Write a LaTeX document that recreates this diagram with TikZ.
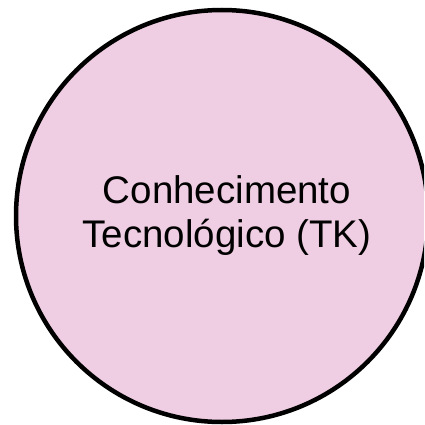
\documentclass[tikz,border=0pt]{standalone}
\usepackage{fontspec}
\setmainfont{Liberation Sans}
\definecolor{tkpink}{RGB}{239,205,226}
\tikzset{
  circ/.style={draw=black, fill=tkpink, line width=4.5pt},
  lbl/.style={align=center, font=\fontsize{38.5}{44.5}\selectfont, text=black}
}
\begin{document}
\begin{tikzpicture}[x=1pt,y=-1pt]
\useasboundingbox (0,0) rectangle (424,425);
\begin{scope}
\clip (0,0) rectangle (424,425);
\node[circ, circle, minimum size=412pt, inner sep=0pt] (tk) at (222,216) {};
\end{scope}
\node[lbl] (t) at (227,215.5) {Conhecimento\\Tecnológico (TK)};
\end{tikzpicture}
\end{document}
